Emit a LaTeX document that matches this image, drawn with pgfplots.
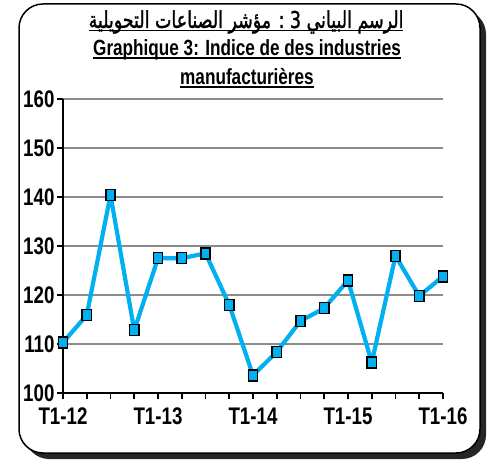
\documentclass[border=0pt]{standalone}
\usepackage{fontspec}
\setmainfont{Liberation Sans}[FakeStretch=0.78]
\newfontfamily\arabicfont[Script=Arabic, FakeBold=1.5]{DejaVu Sans}
\TeXXeTstate=1
\usepackage{graphicx}
\usepackage{pgfplots}
\pgfplotsset{compat=1.18}
\definecolor{cyanc}{RGB}{0,176,240}
\newcommand\ul[1]{\setbox0\hbox{#1}\rlap{\rule[-3pt]{\wd0}{1.5pt}}\box0}
\begin{document}
\begin{tikzpicture}[x=1pt,y=1pt]
\path (0,0) rectangle (489,463);
% frame with shadow
\fill[black!85, rounded corners=24pt] (25,4) rectangle (486,453);
\filldraw[fill=white, draw=black, line width=1.5pt, rounded corners=24pt] (19,10) rectangle (480,459);
% titles
\node[anchor=center] at (246,441) {\scalebox{0.83}[1.1]{\arabicfont\fontsize{21}{24}\selectfont\ul{\beginR الرسم البياني 3 : مؤشر الصناعات التحويلية\endR}}};
\node[anchor=center] at (247,413) {\bfseries\fontsize{22}{24}\selectfont\ul{Graphique 3: Indice de des industries}};
\node[anchor=center] at (247,385) {\bfseries\fontsize{22}{24}\selectfont\ul{manufacturières}};
\begin{axis}[
  at={(63pt,70pt)}, anchor=south west, scale only axis,
  width=380pt, height=294pt,
  xmin=0, xmax=16, ymin=100, ymax=160,
  axis lines*=left,
  axis line style={line width=2.4pt,-},
  ytick={100,110,...,160},
  xtick={0,4,8,12,16},
  xticklabels={T1-12,T1-13,T1-14,T1-15,T1-16},
  minor xtick={0,...,16},
  tick align=outside,
  major tick length=6pt, minor tick length=6pt,
  tick style={black, line width=1.6pt},
  ymajorgrids,
  grid style={black!45, line width=1.5pt},
  /pgf/number format/assume math mode=true,
  ticklabel style={font=\bfseries\fontsize{24}{26}\selectfont},
  xticklabel style={yshift=-5pt},
  yticklabel style={xshift=1pt},
  clip=false,
]
\addplot[color=cyanc, line width=4.2pt, line join=round, mark=square*, mark size=5.5pt,
  mark options={fill=cyanc, draw=black, line width=1.4pt, xscale=0.85, line join=miter}]
coordinates {
(0,110.3) (1,115.9) (2,140.4) (3,112.8) (4,127.5) (5,127.5) (6,128.5)
(7,118.0) (8,103.6) (9,108.4) (10,114.7) (11,117.3) (12,123.0)
(13,106.2) (14,128.0) (15,119.8) (16,123.8)
};
\end{axis}
\end{tikzpicture}
\end{document}
